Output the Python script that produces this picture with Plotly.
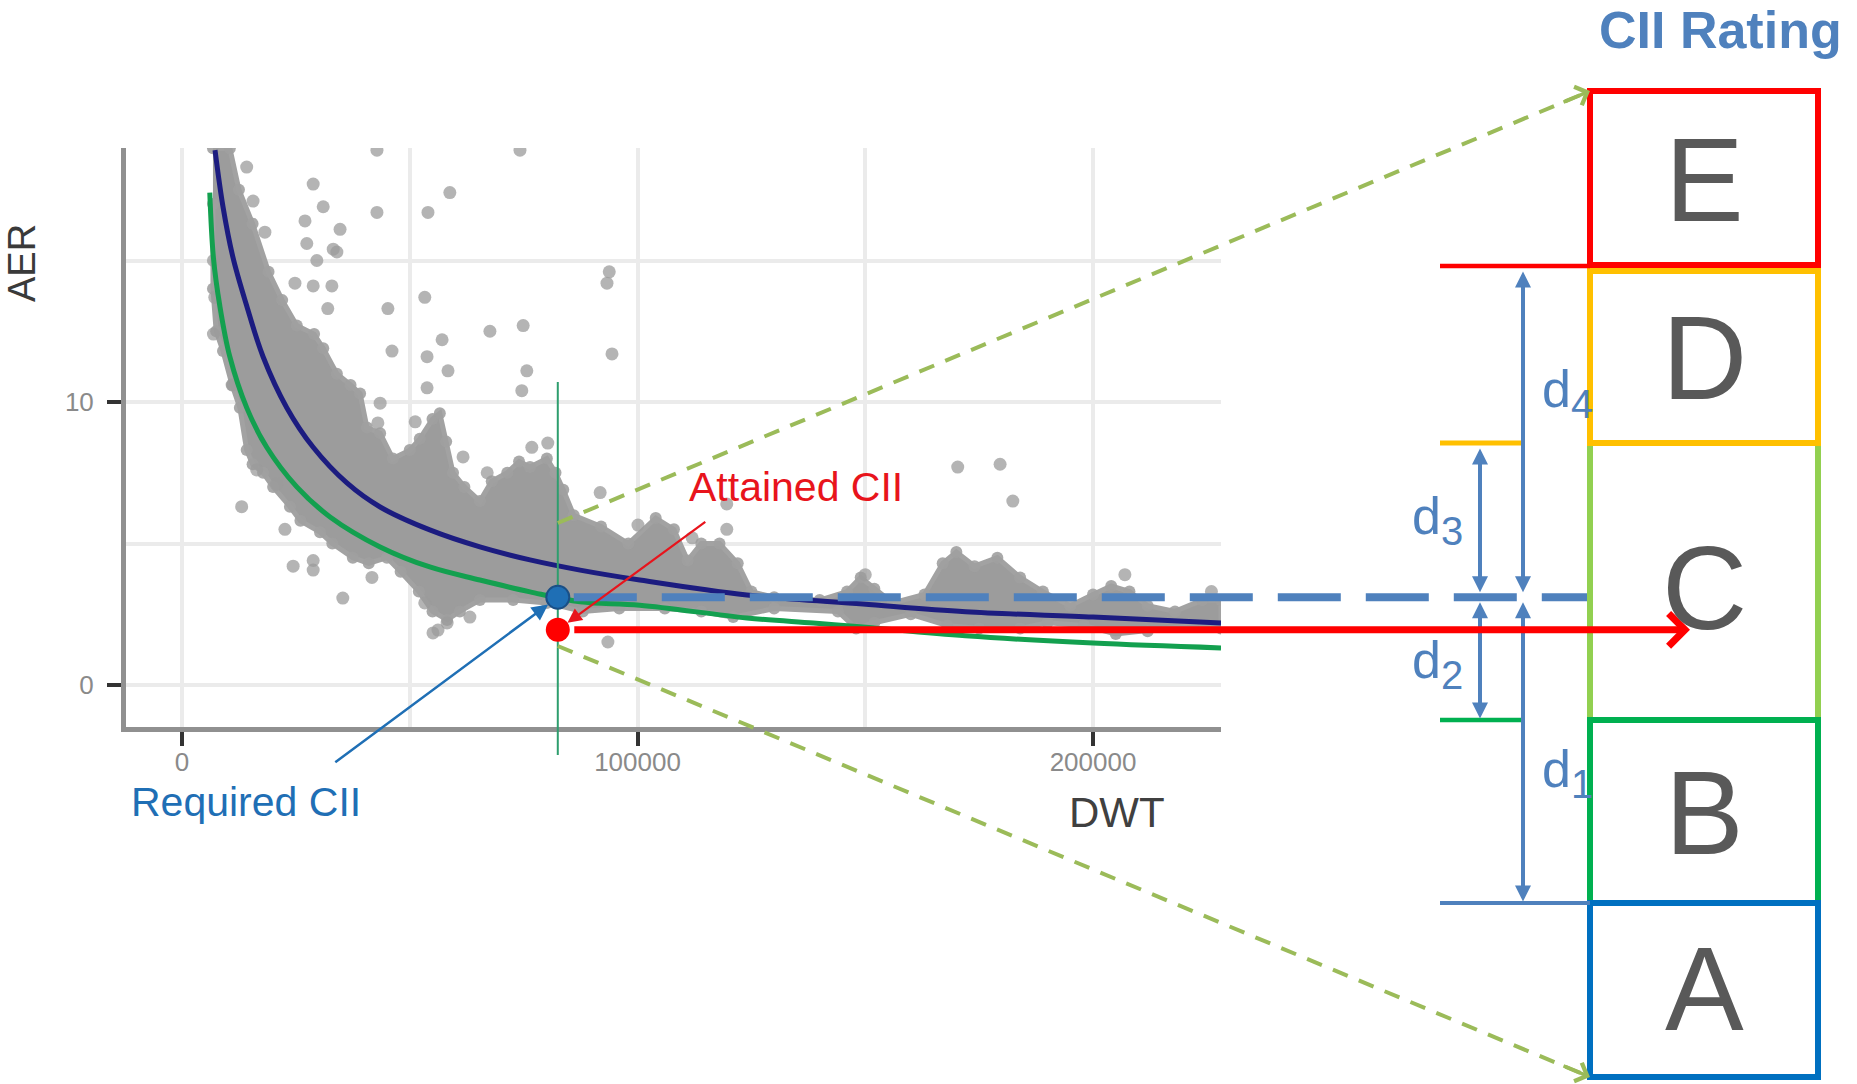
import plotly.graph_objects as go

# ------------------------------------------------------------------
# DATA
# ------------------------------------------------------------------
x_tick_vals = [0, 100000, 200000]
x_tick_text = ["0", "100000", "200000"]
x_minor_vals = [50000, 150000]
y_tick_vals = [0, 10]
y_tick_text = ["0", "10"]
y_minor_vals = [5, 15]

# upper (navy) reference curve
upper_curve_dwt = [7250, 9000, 11200, 14200, 17800, 23000, 28800, 36200, 43500, 54400,
                   65400, 76400, 87400, 100500, 124000, 149500, 172000, 200000, 228100]
upper_curve_aer = [18.9, 16.9, 15.1, 13.4, 11.6, 9.8, 8.4, 7.14, 6.29, 5.48,
                   4.88, 4.42, 4.06, 3.71, 3.18, 2.86, 2.59, 2.40, 2.19]

# lower (green) reference curve
lower_curve_dwt = [6100, 6900, 8300, 10500, 14200, 18600, 25200, 32500, 43500, 54400,
                   65400, 76400, 87400, 100500, 124000, 138600, 149500, 172000, 200000, 228100]
lower_curve_aer = [17.4, 15.1, 13.4, 11.6, 9.8, 8.4, 7.0, 5.94, 4.88, 4.17,
                   3.71, 3.29, 2.94, 2.82, 2.37, 2.19, 2.05, 1.74, 1.48, 1.31]

# envelope of the dense cloud of ships (upper edge left->right, lower edge right->left)
cloud_dwt = [6800, 10500, 12500, 15500, 19000, 22000, 25200, 29000, 31000, 34000, 37000, 39100,
             40600, 43500, 46300, 50000, 52200, 55000, 56600, 58000, 59500, 62000, 65400, 68000,
             71400, 74000, 76400, 80100, 82000, 83700, 86000, 92000, 98000, 104000, 108000,
             111000, 114000, 118000, 122000, 125000, 130000, 140000, 146000, 149000, 152000,
             156000, 163000, 167000, 170000, 174000, 179000, 184000, 189000, 195000, 200000,
             204000, 208000, 212000, 218000, 224000, 228100,
             228100, 222000, 212000, 205000, 198000, 190000, 184000, 175000, 168000, 160000,
             152000, 148000, 144000, 130000, 121000, 114000, 106000, 96000, 88000, 80100,
             72700, 65400, 61000, 58200, 55000, 52000, 48000, 45000, 41000, 37500, 33000,
             30300, 26000, 23700, 20000, 17800, 15500, 14200, 12700, 11000, 9000, 7500,
             6800, 6800]
cloud_aer = [18.97, 18.97, 17.5, 16.3, 14.6, 13.6, 12.7, 12.4, 11.9, 11.0, 10.6, 10.3,
             9.1, 8.9, 8.0, 8.3, 8.7, 9.4, 9.6, 8.6, 7.5, 7.0, 6.5, 7.2,
             7.5, 7.9, 7.7, 8.0, 7.5, 6.9, 6.0, 5.6, 5.0, 5.9, 5.5,
             4.4, 5.0, 5.0, 4.3, 3.3, 3.1, 3.0, 3.3, 3.8, 3.4,
             2.9, 3.2, 4.3, 4.7, 4.2, 4.5, 3.8, 3.3, 2.8, 3.2,
             3.5, 3.3, 2.8, 2.6, 3.0, 3.0,
             2.0, 2.1, 1.9, 1.8, 2.1, 2.2, 2.0, 2.0, 2.1, 2.5,
             2.2, 2.0, 2.6, 2.7, 2.4, 2.6, 2.7, 2.7, 2.6, 2.9,
             3.0, 3.0, 2.6, 2.3, 2.6, 3.3, 4.0, 4.5, 4.3, 4.5, 5.0,
             5.4, 5.8, 6.3, 7.0, 7.5, 7.8, 8.3, 9.8, 10.6, 11.8, 12.5,
             14.0, 17.0]

# individual ships outside the dense cloud
outlier_dwt = [42800, 74200, 14200, 28800, 58800, 15600, 31000, 42800, 54000, 27000, 34700,
               18200, 27400, 34000, 29600, 33200, 24800, 28800, 32900, 32000, 45200, 53300,
               67600, 74900, 46100, 53800, 57100, 58400, 75700, 53800, 74600, 43500, 43000,
               51200, 61700, 67000, 76800, 80300, 6900, 7200, 6900, 11000, 13100, 16400,
               20800, 22600, 24400, 28800, 28800, 35300, 41700, 53300, 55100, 56200, 58200,
               63200, 93300, 93800, 94400, 91800, 100100, 119600, 119600, 93500, 170300,
               179600, 182400, 112000, 150000, 207000, 226000]
outlier_aer = [18.9, 18.9, 18.3, 17.7, 17.4, 17.1, 16.9, 16.7, 16.7, 16.4, 16.1,
               16.0, 15.6, 15.3, 15.0, 15.4, 14.2, 14.1, 14.1, 13.3, 13.3, 13.7,
               12.5, 12.7, 11.8, 11.6, 12.2, 11.1, 11.1, 10.5, 10.4, 9.96, 9.26,
               9.3, 8.06, 7.5, 8.4, 8.55, 15.0, 13.7, 12.4, 10.6, 6.3, 7.6,
               7.1, 5.5, 4.2, 4.4, 4.06, 3.07, 3.8, 2.9, 1.84, 1.94, 2.19,
               2.4, 14.2, 14.6, 11.7, 6.8, 5.65, 6.4, 5.5, 1.52, 7.7,
               7.8, 6.5, 5.2, 3.9, 3.9, 3.3]

ship_dwt = 82500
required_aer = 3.1
attained_aer = 1.95

ratings = ["E", "D", "C", "B", "A"]
rating_colors = ["#FF0000", "#FFC000", "#92D050", "#00B050", "#0070C0"]
distance_labels = ["d1", "d2", "d3", "d4"]

# ------------------------------------------------------------------
# LAYOUT GEOMETRY (pixels of the 1857x1084 page)
# ------------------------------------------------------------------
W, H = 1857, 1084
PLOT_L, PLOT_R, PLOT_T, PLOT_B = 126, 1221, 148, 727
X0_PX, PX_PER_DWT = 182, 455.5 / 100000
Y0_PX, PX_PER_AER = 685, 28.3


def ux(px):
    return (px - X0_PX) / PX_PER_DWT


def uy(py):
    return (Y0_PX - py) / PX_PER_AER


def PX(px):
    return px / W


def PY(py):
    return 1 - py / H


FONT = "Liberation Sans, Arial, sans-serif"
BLUE = "#4F81BD"
GREEN_DASH = "#9BBB59"
GRID = "#ebebeb"

BOX_L, BOX_R = 1590, 1818
box_top = {"E": 91, "D": 271, "C": 443, "B": 720, "A": 903}
box_bot = {"E": 265, "D": 443, "C": 720, "B": 903, "A": 1077}
letter_y = {"E": 180, "D": 358, "C": 588, "B": 813, "A": 989}

fig = go.Figure()

# ---------------- scatter panel (xy) ----------------
fig.add_trace(go.Scatter(x=cloud_dwt, y=cloud_aer, mode="lines+markers", fill="toself",
                         fillcolor="#9c9c9c", line=dict(color="#a2a2a2", width=5),
                         marker=dict(size=12, color="rgba(160,160,160,0.9)"),
                         hoverinfo="skip"))
fig.add_trace(go.Scatter(x=outlier_dwt, y=outlier_aer, mode="markers",
                         marker=dict(size=13, color="rgba(155,155,155,0.75)"), hoverinfo="skip"))
fig.add_trace(go.Scatter(x=lower_curve_dwt, y=lower_curve_aer, mode="lines",
                         line=dict(color="#13a04f", width=5, shape="spline"), hoverinfo="skip"))
fig.add_trace(go.Scatter(x=upper_curve_dwt, y=upper_curve_aer, mode="lines",
                         line=dict(color="#1c1c80", width=5, shape="spline"), hoverinfo="skip"))

# ---------------- overlay (x2y2, same units extended over the page) ----------------
ov = dict(xaxis="x2", yaxis="y2", hoverinfo="skip", cliponaxis=False)
# vertical marker of the ship's DWT
fig.add_trace(go.Scatter(x=[ship_dwt, ship_dwt], y=[uy(382), uy(755)], mode="lines",
                         line=dict(color="#2e9e6e", width=2), **ov))
# green dashed "zoom" lines to the rating scale
fig.add_trace(go.Scatter(x=[ship_dwt, ux(BOX_L)], y=[uy(523), uy(box_top["E"])], mode="lines",
                         line=dict(color=GREEN_DASH, width=4, dash="16px,12px"), **ov))
fig.add_trace(go.Scatter(x=[ship_dwt, ux(BOX_L)], y=[uy(646), uy(box_bot["A"])], mode="lines",
                         line=dict(color=GREEN_DASH, width=4, dash="16px,12px"), **ov))
# required CII level carried to the scale
fig.add_trace(go.Scatter(x=[ship_dwt + 16 / PX_PER_DWT, ux(BOX_L)], y=[required_aer, required_aer],
                         mode="lines", line=dict(color=BLUE, width=8, dash="63px,25px"), **ov))
# points
fig.add_trace(go.Scatter(x=[ship_dwt], y=[required_aer], mode="markers",
                         marker=dict(size=23, color="#1f6fb5", line=dict(color="#1a4f86", width=2)), **ov))
fig.add_trace(go.Scatter(x=[ship_dwt], y=[attained_aer], mode="markers",
                         marker=dict(size=24, color="#FF0000"), **ov))

shapes = []
# rating boxes
for r in ["C", "D", "B", "A", "E"]:
    c = rating_colors[ratings.index(r)]
    shapes.append(dict(type="rect", xref="paper", yref="paper",
                       x0=PX(BOX_L), x1=PX(BOX_R), y0=PY(box_bot[r]), y1=PY(box_top[r]),
                       line=dict(color=c, width=6), fillcolor="rgba(0,0,0,0)"))
# threshold lines
for (x0, x1, yy, col, w) in [(1440, BOX_L, 266, "#FF0000", 4.5), (1440, 1523, 443, "#FFC000", 5),
                             (1440, 1523, 720, "#00B050", 4.5), (1440, BOX_L, 903, BLUE, 4)]:
    shapes.append(dict(type="line", xref="paper", yref="paper", x0=PX(x0), x1=PX(x1),
                       y0=PY(yy), y1=PY(yy), line=dict(color=col, width=w)))

annotations = []
# double arrows d1..d4 : (x px, other end px)
req_py = Y0_PX - required_aer * PX_PER_AER
for (xx, end_py) in [(1523, 268), (1480, 445), (1480, 722), (1523, 905)]:
    annotations.append(dict(xref="x2", yref="y2", x=ux(xx), y=required_aer, ax=0, ay=end_py - req_py,
                            showarrow=True, arrowside="end+start", arrowhead=2, startarrowhead=2,
                            arrowsize=0.8, startarrowsize=0.8, arrowwidth=4, arrowcolor=BLUE,
                            standoff=5, startstandoff=2, text=""))
# d labels
for (lab, xl, yc) in [("d4", 1540, 393), ("d3", 1410, 520), ("d2", 1410, 664), ("d1", 1540, 773)]:
    annotations.append(dict(xref="paper", yref="paper", x=PX(xl), y=PY(yc), xanchor="left", yanchor="middle",
                            text="d<sub><span style='font-size:40px'>" + lab[1] + "</span></sub>",
                            showarrow=False, font=dict(family=FONT, size=52, color=BLUE)))
# red attained arrow to the scale
annotations.append(dict(xref="x2", yref="y2", x=ux(1690), y=attained_aer, axref="x2", ayref="y2",
                        ax=ship_dwt, ay=attained_aer, showarrow=True, arrowhead=4, arrowsize=0.9,
                        arrowwidth=7, arrowcolor="#FF0000", startstandoff=15, text=""))
# green arrow heads
annotations.append(dict(xref="x2", yref="y2", x=ux(BOX_L), y=uy(box_top["E"]), ax=-28, ay=11.7,
                        showarrow=True, arrowhead=4, arrowsize=1.1, arrowwidth=3.5,
                        arrowcolor=GREEN_DASH, text=""))
annotations.append(dict(xref="x2", yref="y2", x=ux(BOX_L), y=uy(box_bot["A"]), ax=-28, ay=-11.7,
                        showarrow=True, arrowhead=4, arrowsize=1.1, arrowwidth=3.5,
                        arrowcolor=GREEN_DASH, text=""))
# callouts
annotations.append(dict(xref="x2", yref="y2", x=ship_dwt, y=required_aer, ax=333 - 557, ay=763 - 597,
                        showarrow=True, arrowhead=2, arrowsize=1.3, arrowwidth=2.5,
                        arrowcolor="#1f6fb5", standoff=12, text=""))
annotations.append(dict(xref="x2", yref="y2", x=ship_dwt, y=attained_aer, ax=708 - 559, ay=520 - 629,
                        showarrow=True, arrowhead=2, arrowsize=1.3, arrowwidth=2.2,
                        arrowcolor="#e8141c", standoff=12, text=""))


def label(px, py, text, size, color, angle=0):
    return dict(xref="paper", yref="paper", x=PX(px), y=PY(py), xanchor="center", yanchor="middle",
                text=text, textangle=angle, showarrow=False,
                font=dict(family=FONT, size=size, color=color))


annotations.append(label(246, 802, "Required CII", 41, "#1f6fb5"))
annotations.append(label(796, 487, "Attained CII", 41, "#e8141c"))
# axis titles
annotations.append(label(22, 263, "AER", 38, "#3a3a3a", -90))
annotations.append(label(1117, 812, "DWT", 42, "#404040"))
# rating letters and title
for r in ratings:
    annotations.append(label((BOX_L + BOX_R) / 2, letter_y[r], r, 118, "#595959"))
annotations.append(label(1720, 30, "<b>CII Rating</b>", 52, BLUE))

axis_common = dict(showgrid=True, gridcolor=GRID, gridwidth=4, zeroline=False, showline=True,
                   linecolor="#909090", linewidth=5, ticks="outside", ticklen=14, tickwidth=4,
                   tickcolor="#333333", tickfont=dict(family=FONT, size=26, color="#8a8a8a"),
                   fixedrange=True)

fig.update_layout(
    width=W, height=H, margin=dict(l=0, r=0, t=0, b=0),
    paper_bgcolor="white", plot_bgcolor="rgba(0,0,0,0)", showlegend=False,
    xaxis=dict(domain=[PX(PLOT_L), PX(PLOT_R)], range=[ux(PLOT_L), ux(PLOT_R)], anchor="y",
               tickmode="array", tickvals=x_tick_vals, ticktext=x_tick_text, ticklabelstandoff=-6,
               minor=dict(tickmode="array", tickvals=x_minor_vals, showgrid=True, gridcolor=GRID,
                          gridwidth=4, ticks=""),
               **axis_common),
    yaxis=dict(domain=[PY(PLOT_B), PY(PLOT_T)], range=[uy(PLOT_B), uy(PLOT_T)], anchor="x",
               tickmode="array", tickvals=y_tick_vals, ticktext=y_tick_text, ticklabelstandoff=8,
               minor=dict(tickmode="array", tickvals=y_minor_vals, showgrid=True, gridcolor=GRID,
                          gridwidth=4, ticks=""),
               **axis_common),
    xaxis2=dict(domain=[0, 1], range=[ux(0), ux(W)], anchor="y2", visible=False, fixedrange=True),
    yaxis2=dict(domain=[0, 1], range=[uy(H), uy(0)], anchor="x2", visible=False, fixedrange=True),
    shapes=shapes, annotations=annotations,
)

fig.write_html("out.html", config={"displayModeBar": False, "staticPlot": True},
               post_script="document.body.style.margin='0';document.body.style.overflow='hidden';")
